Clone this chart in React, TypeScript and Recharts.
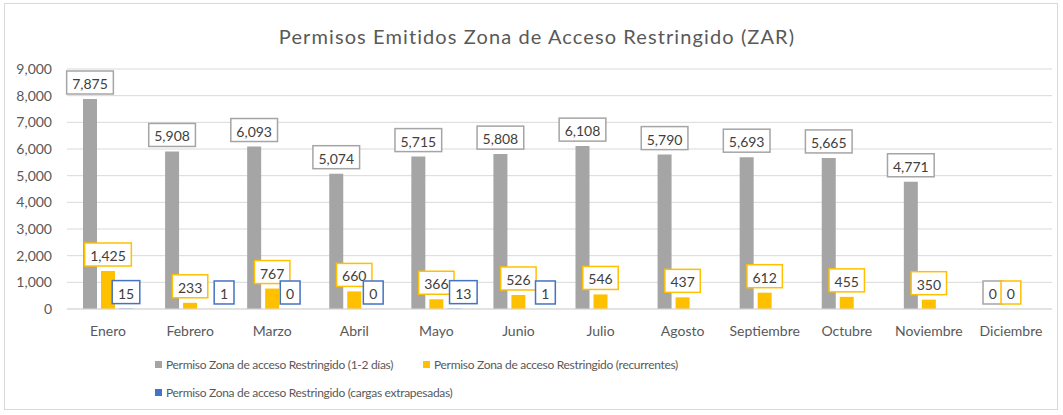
import { BarChart, Bar, XAxis, YAxis, CartesianGrid, Legend, Rectangle } from 'recharts'

const months = ['Enero', 'Febrero', 'Marzo', 'Abril', 'Mayo', 'Junio', 'Julio', 'Agosto', 'Septiembre', 'Octubre', 'Noviembre', 'Diciembre']
const cortos = [7875, 5908, 6093, 5074, 5715, 5808, 6108, 5790, 5693, 5665, 4771, 0]
const recurrentes = [1425, 233, 767, 660, 366, 526, 546, 437, 612, 455, 350, 0]
const extrapesadas: (number | null)[] = [15, 1, 0, 0, 13, 1, null, null, null, null, null, null]
const yTicks = [0, 1000, 2000, 3000, 4000, 5000, 6000, 7000, 8000, 9000]
// labels of the blue series were dragged sideways by hand in the original
const blueLabelNudge = [0, 16, 0, 1, 9, 9, 0, 0, 0, 0, 0, 0]

const series = [
  { key: 'cortos', name: 'Permiso Zona de acceso Restringido (1-2 días)', color: '#a5a5a5' },
  { key: 'recurrentes', name: 'Permiso Zona de acceso Restringido (recurrentes)', color: '#ffc000' },
  { key: 'extrapesadas', name: 'Permiso Zona de acceso Restringido (cargas extrapesadas)', color: '#4472c4' },
]

const data = months.map((m, i) => ({
  name: m,
  cortos: cortos[i],
  recurrentes: recurrentes[i],
  extrapesadas: extrapesadas[i],
}))

const FONT = 'Lato, "Open Sans", sans-serif'
const fmt = (v: number) => v.toLocaleString('en-US')

// bar + boxed value label (Excel style), drawn together so zero bars keep their label
const barWithLabel = (key: string, color: string) => (props: any) => {
  const { x, y, width, height, payload, index } = props
  const value = payload ? payload[key] : null
  if (value === null || value === undefined) return <g />
  const text = fmt(Number(value))
  const digits = text.replace(/,/g, '').length
  const commas = text.length - digits
  const w = digits * 7.8 + commas * 3.5 + 12
  const h = 23
  const nudge = key === 'extrapesadas' ? blueLabelNudge[index] ?? 0 : 0
  const cx = Number(x) + Number(width) / 2 + nudge
  const barTop = Math.min(Number(y), Number(y) + Number(height))
  const top = barTop - 5 - h
  return (
    <g>
      {height > 0 && <Rectangle x={x} y={y} width={width} height={height} fill={color} />}
      <rect x={cx - w / 2} y={top} width={w} height={h} fill="#fff" stroke={color} strokeWidth={1.5} />
      <text x={cx} y={top + h / 2 + 1} textAnchor="middle" dominantBaseline="central" fontSize={14} fontFamily={FONT} fill="#404040">
        {text}
      </text>
    </g>
  )
}

const renderLegend = () => (
  <div style={{ position: 'relative', height: 56, fontFamily: FONT, fontSize: 12, color: '#595959', letterSpacing: -0.3 }}>
    {series.map((s, i) => (
      <div
        key={s.key}
        style={{ position: 'absolute', left: i === 1 ? 423 : 155, top: i === 2 ? 30 : 2, display: 'flex', alignItems: 'center', whiteSpace: 'nowrap' }}
      >
        <span style={{ width: 7, height: 7, background: s.color, marginRight: 4, display: 'inline-block' }} />
        {s.name}
      </div>
    ))}
  </div>
)

export default function App() {
  return (
    <div style={{ position: 'absolute', left: 0, top: 0, width: 1063, height: 415, background: '#fff' }}>
      <div style={{ position: 'absolute', left: 4, top: 3, width: 1054, height: 407, border: '1px solid #d9d9d9', boxSizing: 'border-box' }} />
      <div style={{ position: 'absolute', left: 0, top: 24, width: 1074, textAlign: 'center', fontFamily: FONT, fontSize: 20, color: '#595959', letterSpacing: 1.1 }}>
        Permisos Emitidos Zona de Acceso Restringido (ZAR)
      </div>
      <BarChart width={1063} height={415} data={data} margin={{ top: 69, right: 11, left: 0, bottom: 4 }} barSize={14} barGap={4}>
        <CartesianGrid vertical={false} stroke="#d9d9d9" />
        <XAxis dataKey="name" axisLine={{ stroke: '#d9d9d9' }} tickLine={false} height={46} tickMargin={11} tick={{ fontSize: 14, fill: '#595959', fontFamily: FONT }} />
        <YAxis domain={[0, 9000]} ticks={yTicks} width={67} axisLine={false} tickLine={false} tickMargin={9} tickFormatter={fmt} tick={{ fontSize: 14, fill: '#595959', fontFamily: FONT }} />
        <Legend verticalAlign="bottom" align="left" content={renderLegend} wrapperStyle={{ left: 0, width: 1063 }} />
        {series.map(s => (
          <Bar key={s.key} dataKey={s.key} name={s.name} fill={s.color} isAnimationActive={false} shape={barWithLabel(s.key, s.color)} />
        ))}
      </BarChart>
    </div>
  )
}
